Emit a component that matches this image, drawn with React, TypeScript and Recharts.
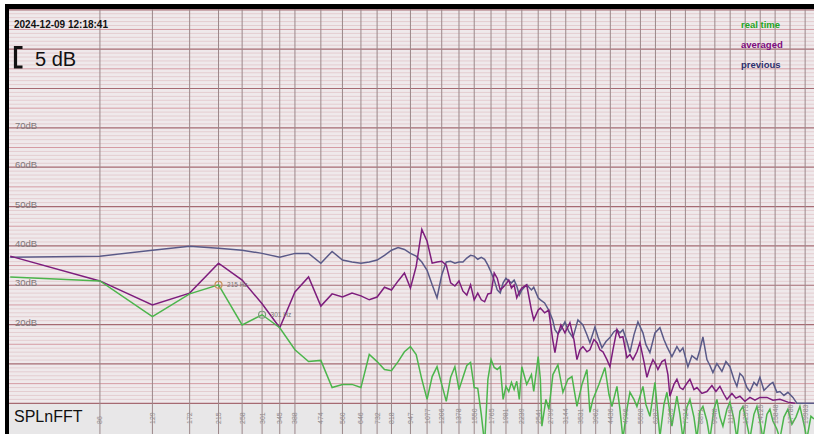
import React from 'react';
import { LineChart, Line, XAxis, YAxis, CartesianGrid, ReferenceDot } from 'recharts';

// frequency axis ticks (Hz) as printed in the bottom strip
const tickFreqs = [86, 129, 172, 215, 258, 301, 345, 388, 474, 560, 646, 732, 818, 947, 1077, 1206, 1378, 1550, 1765, 1981, 2239, 2541, 2799, 3144, 3531, 3962, 4436, 4996, 5598, 6287, 7063, 7924, 8871, 9948, 11197, 12575, 14125, 15848, 17786, 19983];
const dbTicks = [20, 30, 40, 50, 60, 70];

const previousHz = [43, 86, 129, 172, 215, 258, 301, 345, 388, 431, 474, 517, 560, 603, 646, 689, 732, 775, 818, 861, 904, 947, 990, 1034, 1077, 1120, 1163, 1206, 1249, 1292, 1335, 1378, 1421, 1464, 1507, 1550, 1593, 1637, 1680, 1723, 1766, 1809, 1852, 1895, 1938, 1981, 2024, 2067, 2110, 2153, 2196, 2239, 2325, 2412, 2455, 2541, 2584, 2670, 2756, 2842, 2892, 2959, 3028, 3124, 3221, 3323, 3454, 3590, 3703, 3789, 3939, 4031, 4158, 4289, 4423, 4562, 4669, 4778, 4890, 5044, 5162, 5325, 5491, 5707, 5841, 6024, 6262, 6508, 6713, 6870, 7140, 7421, 7595, 7773, 8080, 8333, 8661, 8864, 9072, 9357, 9576, 9801, 10108, 10506, 10836, 11176, 11528, 11797, 12074, 12358, 12745, 13044, 13455, 13769, 14091, 14535, 14874, 15223, 15581, 16069, 16446, 16964, 17495, 18185, 18755, 22050];
const previousDb = [37.1, 37.4, 38.9, 39.9, 39.4, 38.9, 38.1, 37.1, 38.1, 38.1, 35.6, 38.6, 36.4, 35.9, 35.6, 35.9, 36.4, 37.6, 38.9, 39.6, 39.1, 38.1, 37.4, 35.9, 33.8, 30.1, 26.8, 32.6, 35.9, 36.1, 35.6, 35.9, 35.9, 36.9, 37.6, 37.4, 36.6, 37.1, 36.6, 35.1, 33.3, 31.3, 28.8, 28.0, 30.6, 31.8, 31.1, 30.6, 31.3, 29.8, 27.5, 28.8, 30.1, 28.8, 29.5, 26.8, 26.3, 25.5, 23.7, 21.2, 18.7, 17.7, 18.7, 20.7, 18.2, 16.7, 21.2, 19.9, 17.4, 15.4, 19.4, 16.9, 14.1, 15.7, 16.7, 18.2, 18.7, 17.9, 18.7, 15.7, 12.9, 17.4, 20.7, 17.9, 14.9, 12.9, 17.9, 19.2, 16.2, 14.4, 11.9, 14.4, 13.1, 14.1, 9.3, 12.1, 11.1, 13.6, 16.9, 11.1, 9.6, 7.8, 10.1, 8.1, 10.6, 9.3, 6.1, 4.3, 7.6, 6.8, 4.0, 3.0, 5.3, 4.5, 6.6, 3.3, 4.0, 4.8, 5.3, 2.8, 3.0, 2.0, 2.8, 1.5, 0, 0];

const averagedHz = [43, 86, 129, 172, 215, 258, 301, 345, 388, 431, 474, 517, 560, 603, 646, 689, 732, 775, 818, 861, 904, 947, 990, 1034, 1077, 1120, 1163, 1206, 1249, 1292, 1335, 1378, 1421, 1464, 1507, 1550, 1593, 1637, 1680, 1723, 1766, 1809, 1852, 1895, 1938, 1981, 2024, 2067, 2110, 2153, 2196, 2239, 2325, 2412, 2455, 2541, 2584, 2670, 2756, 2842, 2892, 2959, 3028, 3124, 3247, 3349, 3428, 3508, 3590, 3703, 3789, 3908, 4000, 4094, 4190, 4322, 4423, 4527, 4669, 4778, 4890, 5044, 5162, 5283, 5449, 5576, 5752, 5886, 6024, 6166, 6310, 6408, 6610, 6765, 6923, 7030, 7251, 7421, 7595, 7773, 8017, 8205, 8464, 8661, 9002, 9357, 9725, 10031, 10345, 10671, 10920, 11350, 11707, 12074, 12551, 13044, 13559, 14091, 14874, 15581, 16446, 17495, 18469];
const averagedDb = [37.4, 31.1, 25.0, 28.0, 35.6, 31.3, 25.3, 19.2, 28.3, 32.1, 24.7, 27.8, 27.0, 28.0, 27.3, 26.3, 27.0, 29.5, 28.8, 31.1, 33.1, 29.3, 34.8, 44.2, 41.2, 35.6, 35.9, 36.1, 35.1, 30.6, 29.8, 31.1, 28.5, 27.5, 30.1, 26.3, 28.0, 26.3, 25.8, 27.8, 28.0, 33.1, 31.8, 28.8, 29.5, 30.3, 31.3, 29.3, 30.1, 26.8, 28.3, 29.3, 30.1, 23.7, 21.2, 23.7, 24.2, 23.0, 23.7, 16.2, 12.9, 17.4, 19.9, 17.9, 20.5, 16.2, 11.1, 13.6, 14.4, 13.1, 13.6, 16.2, 15.4, 13.6, 13.1, 11.1, 9.3, 13.6, 18.7, 16.7, 16.9, 11.6, 12.4, 11.1, 13.1, 15.4, 10.6, 6.6, 9.1, 11.1, 9.8, 8.6, 10.6, 11.1, 7.3, 1.8, 4.8, 6.1, 4.0, 3.5, 5.1, 6.1, 3.5, 4.0, 2.5, 3.0, 4.5, 3.0, 4.3, 2.3, 1.0, 2.5, 1.3, 1.8, 0.5, 1.5, 0.8, 1.5, 1.5, 0.8, 1.0, 0.3, 0];

const realTimeHz = [43, 86, 129, 172, 215, 258, 301, 345, 388, 431, 474, 517, 560, 603, 646, 689, 732, 775, 818, 861, 904, 947, 990, 1034, 1077, 1120, 1163, 1206, 1249, 1292, 1335, 1378, 1421, 1464, 1507, 1550, 1593, 1637, 1680, 1723, 1766, 1809, 1852, 1895, 1938, 1981, 2024, 2067, 2110, 2153, 2196, 2239, 2325, 2412, 2455, 2541, 2584, 2615, 2697, 2760, 2847, 2959, 3076, 3197, 3298, 3428, 3563, 3703, 3789, 3878, 4062, 4256, 4389, 4492, 4669, 4778, 4890, 5044, 5162, 5325, 5449, 5707, 5841, 6024, 6262, 6508, 6713, 6870, 7140, 7421, 7595, 7773, 8017, 8205, 8464, 8661, 8864, 9072, 9357, 9576, 9878, 10108, 10345, 10588, 10920, 11176, 11528, 11797, 12074, 12358, 12745, 13044, 13455, 13769, 14091, 14422, 14874, 15223, 15581, 16069, 16446, 16964, 17495, 18044, 18611, 19194, 19799, 20261, 20897, 21400];
const realTimeDb = [32.1, 31.1, 22.0, 27.8, 30.1, 19.9, 22.5, 19.2, 13.6, 10.6, 10.9, 4.0, 4.8, 4.8, 4.0, 12.4, 10.6, 8.6, 8.3, 10.6, 13.1, 14.4, 12.4, 6.1, 1.0, 6.8, 9.3, 4.8, 0.5, 6.6, 9.3, 3.5, 6.6, 9.6, 10.4, 4.0, 3.8, -2.8, -10.4, 6.1, 11.1, 9.1, 8.6, 9.3, 1.0, 4.3, 3.0, 5.3, 3.5, 5.6, 1.0, 9.3, 4.8, 7.3, 3.0, 11.9, 6.1, -5.8, 1.0, -1.5, 7.3, 9.8, 2.8, 6.1, 6.8, -0.8, 4.8, 8.6, -2.3, 1.0, 4.8, 9.1, 2.3, -0.8, 4.3, -1.5, -9.0, -1.5, 2.8, 1.0, -0.8, 4.3, -0.3, -3.3, 5.3, -8.5, -0.3, 2.8, -5.8, 1.8, -2.8, -9.0, -1.0, 1.0, -3.5, -9.0, -2.0, -0.8, -4.5, -9.0, -1.5, 1.0, -3.5, -5.8, -1.5, 0.3, -4.0, -9.0, -2.0, -0.8, -5.3, -9.0, -2.8, -0.8, -4.5, -9.0, -2.8, -1.5, -4.5, -6.6, -9.0, -3.5, -1.5, -5.3, -3.5, -0.8, -5.3, -9.0, -3.3, -4.0];

const toRows = (hz: number[], db: number[]) => hz.map((f, i) => ({ f, db: db[i] }));
const previousData = toRows(previousHz, previousDb);
const averagedData = toRows(averagedHz, averagedDb);
const realTimeData = toRows(realTimeHz, realTimeDb);

// 1 dB ruling, heavier every 5 and 10 dB
const allLevels = Array.from({ length: 101 }, (_, i) => i);
const minorLevels = allLevels.filter((v) => v % 5 !== 0);
const fiveLevels = allLevels.filter((v) => v % 5 === 0 && v % 10 !== 0);
const tenLevels = allLevels.filter((v) => v % 10 === 0);

const FONT = "'Liberation Sans', Arial, Helvetica, sans-serif";

const DbTick = (props: any) => {
  const { y, payload } = props;
  return (
    <text x={6} y={y + 1} fontSize={9.5} fill="#7f7779" fontFamily={FONT}>
      {payload.value}dB
    </text>
  );
};

const FreqTick = (props: any) => {
  const { x, payload } = props;
  return (
    <text transform={`translate(${x + 2.5},415) rotate(-90)`} fontSize={7} fill="#8e898b" fontFamily={FONT}>
      {payload.value}
    </text>
  );
};

export default function App() {
  return (
    <div style={{ position: 'fixed', left: 0, top: 0, width: 814, height: 434, background: '#fff', fontFamily: FONT, overflow: 'hidden' }}>
      <div
        style={{
          position: 'absolute', left: 9, top: 9, width: 805, height: 425,
          background: 'linear-gradient(to bottom, #efe9eb 0px, #efe9eb 394px, #e8e7e8 394px)',
        }}
      >
        <LineChart width={805} height={425} margin={{ top: 0, right: 0, bottom: 0, left: 0 }}>
          <XAxis
            dataKey="f"
            type="number"
            scale="log"
            domain={[42.6, 21400]}
            allowDataOverflow
            ticks={tickFreqs}
            interval={0}
            mirror
            axisLine={false}
            tickLine={false}
            tick={<FreqTick />}
          />
          <YAxis
            type="number"
            domain={[-7.8, 100.2]}
            allowDataOverflow
            ticks={dbTicks}
            interval={0}
            mirror
            axisLine={false}
            tickLine={false}
            tick={<DbTick />}
          />
          <CartesianGrid vertical={false} horizontalValues={minorLevels} stroke="#e4cdd0" strokeWidth={1} />
          <CartesianGrid vertical={false} horizontalValues={fiveLevels} stroke="#d59ba3" strokeWidth={1} />
          <CartesianGrid vertical={false} horizontalValues={tenLevels} stroke="#a66a72" strokeWidth={1.2} />
          <CartesianGrid horizontal={false} verticalValues={tickFreqs} stroke="#9b8789" strokeWidth={1} />
          <Line data={previousData} dataKey="db" type="linear" stroke="#5a5a88" strokeWidth={1.5} dot={false} isAnimationActive={false} />
          <Line data={averagedData} dataKey="db" type="linear" stroke="#7d1d7d" strokeWidth={1.5} dot={false} isAnimationActive={false} />
          <Line data={realTimeData} dataKey="db" type="linear" stroke="#4cb54c" strokeWidth={1.5} dot={false} isAnimationActive={false} />
          <ReferenceDot
            x={215}
            y={30.1}
            r={3.5}
            fill="none"
            stroke="#c8905a"
            strokeWidth={1.2}
            label={{ value: '215 Hz', position: 'right', fontSize: 6.5, fill: '#7a7272', offset: 5 }}
          />
          <ReferenceDot
            x={301}
            y={22.5}
            r={3.5}
            fill="none"
            stroke="#7f9c7f"
            strokeWidth={1.2}
            label={{ value: '301 Hz', position: 'right', fontSize: 6.5, fill: '#7a7272', offset: 5 }}
          />
        </LineChart>
      </div>
      <div style={{ position: 'absolute', left: 5, top: 4, width: 809, height: 5, background: '#000' }} />
      <div style={{ position: 'absolute', left: 5, top: 4, width: 4, height: 430, background: '#000' }} />
      <svg width={814} height={434} style={{ position: 'absolute', left: 0, top: 0, pointerEvents: 'none' }}>
        <text x={14} y={28} fontSize={10} fontWeight="bold" fill="#111">2024-12-09 12:18:41</text>
        <path d="M22.5,47.5 L15.5,47.5 L15.5,67 L22.5,67" fill="none" stroke="#111" strokeWidth={3.2} />
        <text x={35} y={66} fontSize={20} fill="#111">5 dB</text>
        <text x={741} y={28} fontSize={9.5} fontWeight="bold" fill="#1ea51e">real time</text>
        <text x={741} y={47.5} fontSize={9.5} fontWeight="bold" fill="#7d0a7d">averaged</text>
        <text x={741} y={68} fontSize={9.5} fontWeight="bold" fill="#2f2f6e">previous</text>
        <text x={14} y={422} fontSize={16} fill="#111">SPLnFFT</text>
      </svg>
    </div>
  );
}
